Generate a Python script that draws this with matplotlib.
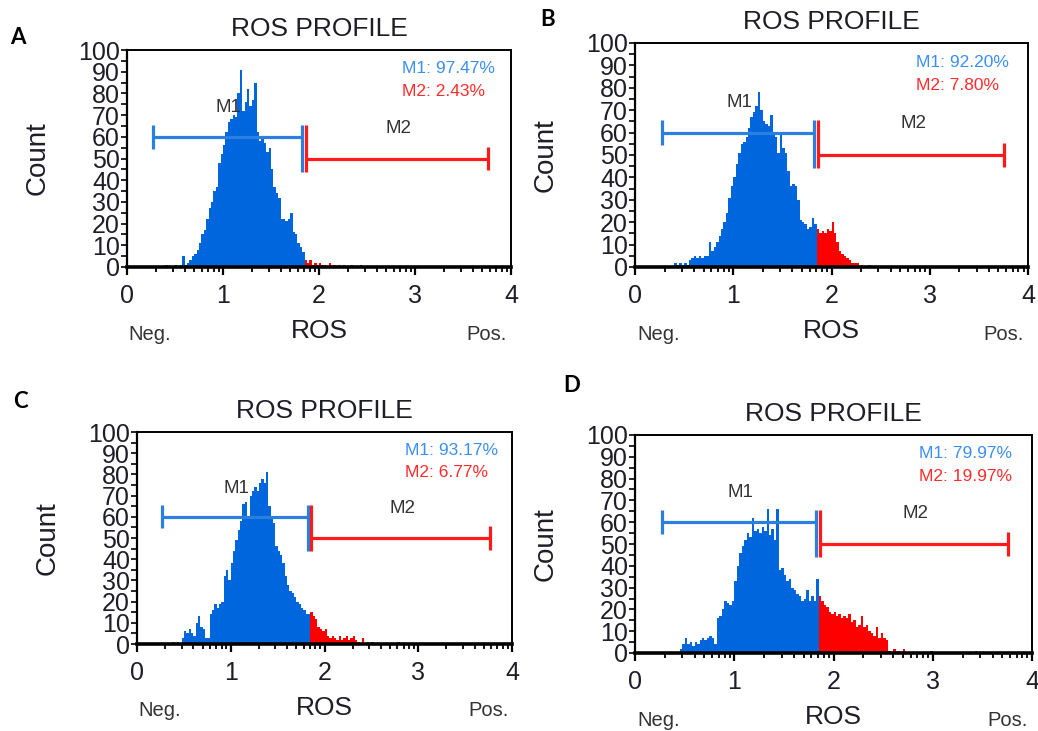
import numpy as np
import matplotlib
matplotlib.use("Agg")
import matplotlib.pyplot as plt

plt.rcParams['font.family'] = ['Liberation Sans', 'DejaVu Sans']

# histogram channels: log decades 0..4, fixed bin width, first bin edge at 0.375
BIN_START = 0.375
BIN_WIDTH = 0.025
GATE = 1.85          # M1 / M2 boundary on the ROS axis

panel_labels = ["A", "B", "C", "D"]
m1_text = ["M1: 97.47%", "M1: 92.20%", "M1: 93.17%", "M1: 79.97%"]
m2_text = ["M2: 2.43%", "M2: 7.80%", "M2: 6.77%", "M2: 19.97%"]

counts_a = [0, 1, 0, 0, 0, 1, 0, 1, 5, 1,
            2, 3, 5, 6, 8, 11, 15, 17, 22, 27,
            30, 35, 37, 48, 52, 56, 62, 67, 68, 70,
            69, 80, 91, 72, 76, 82, 74, 77, 85, 62,
            58, 59, 57, 53, 55, 45, 37, 34, 32, 22,
            22, 21, 22, 25, 16, 15, 11, 9, 7, 3,
            2, 3, 1, 2, 1, 2, 1, 1, 0, 2,
            0, 1, 0, 1, 0, 1, 0, 0, 1, 0,
            0, 0, 1]

counts_b = [0, 2, 1, 2, 1, 2, 1, 3, 4, 5,
            4, 5, 4, 5, 5, 11, 7, 9, 11, 14,
            17, 20, 24, 31, 36, 40, 46, 51, 55, 56,
            58, 62, 67, 69, 72, 78, 70, 65, 64, 63,
            68, 59, 58, 51, 60, 53, 51, 43, 36, 37,
            36, 30, 21, 20, 19, 17, 18, 22, 19, 17,
            15, 16, 15, 17, 16, 20, 15, 11, 7, 6,
            5, 4, 3, 2, 2, 2, 0, 1, 0, 0,
            1]

counts_c = [1, 0, 1, 0, 3, 6, 5, 7, 5, 4,
            10, 13, 8, 7, 3, 3, 14, 16, 19, 17,
            19, 20, 32, 35, 30, 38, 44, 49, 54, 58,
            66, 67, 60, 70, 72, 74, 72, 76, 78, 76,
            81, 65, 60, 57, 46, 44, 42, 38, 32, 28,
            25, 24, 22, 20, 19, 17, 16, 14, 14, 15,
            13, 12, 8, 7, 6, 7, 4, 3, 4, 3,
            2, 4, 2, 3, 4, 2, 3, 4, 2, 1,
            0, 3, 0, 1, 0, 1, 0, 0, 0, 0,
            0, 0, 0, 0, 0, 0, 1]

counts_d = [0, 0, 0, 2, 4, 7, 4, 5, 3, 5,
            4, 6, 7, 6, 7, 8, 7, 4, 16, 17,
            20, 24, 23, 22, 24, 33, 40, 46, 49, 52,
            55, 53, 62, 56, 57, 55, 58, 56, 66, 54,
            57, 52, 66, 38, 39, 36, 33, 34, 30, 29,
            27, 26, 24, 25, 29, 24, 26, 24, 34, 26,
            24, 22, 21, 19, 18, 19, 17, 18, 16, 17,
            16, 18, 14, 15, 12, 13, 17, 12, 13, 10,
            9, 8, 12, 7, 9, 7, 6, 1, 0, 2,
            0, 1, 0, 2, 0, 0, 0, 0, 0, 0,
            0, 0, 0, 0, 1, 0, 0, 0, 0, 0,
            0, 0, 0, 0, 0, 0, 0, 0, 0, 0,
            0, 0, 1]

all_counts = [counts_a, counts_b, counts_c, counts_d]

# marker gates (ROS range, count level)
m1_range = (0.27, 1.82)
m2_range = (1.86, 3.76)
m1_level = 60
m2_level = 50

HIST_BLUE = '#0066dd'
HIST_RED = '#ff0000'
MARK_BLUE = '#2a7fe0'
MARK_RED = '#ff1a1a'
TEXT_BLUE = '#3b8ff0'
TEXT_RED = '#ff2b2b'
DARK = '#1e1e28'

W, H = 1038, 731
fig = plt.figure(figsize=(W / 100, H / 100), dpi=100)

# axes boxes in pixels: left, top, right, bottom
boxes = [(127, 50, 511, 267), (635, 43, 1028, 267),
         (137, 432, 512, 644), (635, 435, 1032, 653)]
letter_pos = [(18, 38), (548, 20), (20, 402), (572, 385)]


def draw_panel(ax, counts, m1, m2):
    counts = np.asarray(counts, dtype=float)
    edges = BIN_START + BIN_WIDTH * np.arange(len(counts) + 1)
    cut = int(round((GATE - BIN_START) / BIN_WIDTH))
    ax.stairs(counts[:cut], edges[:cut + 1], fill=True, color=HIST_BLUE, lw=0)
    ax.stairs(counts[cut:], edges[cut:], fill=True, color=HIST_RED, lw=0)

    # gate markers
    kw = dict(lw=2.3, solid_capstyle='butt', zorder=5)
    ax.plot([m1_range[0], m1_range[1]], [m1_level, m1_level], color=MARK_BLUE, **kw)
    ax.plot([m1_range[0]] * 2, [m1_level - 5.5, m1_level + 5.5], color=MARK_BLUE, **kw)
    ax.plot([m1_range[1]] * 2, [m2_level - 6, m1_level + 5.5], color=MARK_BLUE, **kw)
    ax.plot([m2_range[0], m2_range[1]], [m2_level, m2_level], color=MARK_RED, **kw)
    ax.plot([m2_range[0]] * 2, [m2_level - 6, m1_level + 5.5], color=MARK_RED, **kw)
    ax.plot([m2_range[1]] * 2, [m2_level - 5.5, m2_level + 5.5], color=MARK_RED, **kw)
    ax.text(1.06, 73.5, "M1", fontsize=13.5, color='#333333', ha='center', va='center')
    ax.text(2.83, 64, "M2", fontsize=13.5, color='#333333', ha='center', va='center')
    ax.text(2.86, 91.5, m1, fontsize=12.5, color=TEXT_BLUE, ha='left', va='center')
    ax.text(2.86, 81, m2, fontsize=12.5, color=TEXT_RED, ha='left', va='center')

    ax.set_xlim(0, 4)
    ax.set_ylim(0, 100)
    ax.set_xticks(range(5))
    ax.set_xticks([d + np.log10(k) for d in range(4) for k in range(2, 10)], minor=True)
    ax.set_yticks(range(0, 101, 10))
    ax.set_yticks(range(5, 100, 10), minor=True)
    ax.tick_params(axis='x', which='major', length=6, width=1.6, labelsize=18,
                   pad=6, colors='black', labelcolor=DARK)
    ax.tick_params(axis='x', which='minor', length=3.5, width=1.3)
    ax.tick_params(axis='y', which='both', length=4, width=1.2, labelsize=18,
                   pad=1, labelcolor=DARK)
    for side in ['top', 'right']:
        ax.spines[side].set_linewidth(1.4)
    ax.spines['left'].set_linewidth(1.6)
    ax.spines['bottom'].set_linewidth(2.6)

    ax.annotate("ROS PROFILE", xy=(0.5, 1), xycoords='axes fraction',
                xytext=(0, 21), textcoords='offset pixels',
                ha='center', va='center', fontsize=19, color=DARK)
    ax.annotate("Count", xy=(0, 0.5), xycoords='axes fraction',
                xytext=(-89, 0), textcoords='offset pixels', rotation=90,
                ha='center', va='center', fontsize=20, color=DARK)
    ax.annotate("ROS", xy=(2.0, 0), xycoords=('data', 'axes fraction'),
                xytext=(0, -64), textcoords='offset pixels',
                ha='center', va='center', fontsize=19, color=DARK)
    ax.annotate("Neg.", xy=(0.24, 0), xycoords=('data', 'axes fraction'),
                xytext=(0, -67), textcoords='offset pixels',
                ha='center', va='center', fontsize=14.5, color='#333333')
    ax.annotate("Pos.", xy=(3.75, 0), xycoords=('data', 'axes fraction'),
                xytext=(0, -67), textcoords='offset pixels',
                ha='center', va='center', fontsize=14.5, color='#333333')


for box, counts, m1, m2, letter, lp in zip(boxes, all_counts, m1_text, m2_text,
                                           panel_labels, letter_pos):
    left, top, right, bottom = box
    ax = fig.add_axes([left / W, 1 - bottom / H, (right - left) / W, (bottom - top) / H])
    draw_panel(ax, counts, m1, m2)
    fig.text(lp[0] / W, 1 - lp[1] / H, letter, fontsize=16, fontweight='bold',
             family=['Lato', 'DejaVu Sans'], ha='center', va='center')

fig.savefig("out.png", dpi=100)
